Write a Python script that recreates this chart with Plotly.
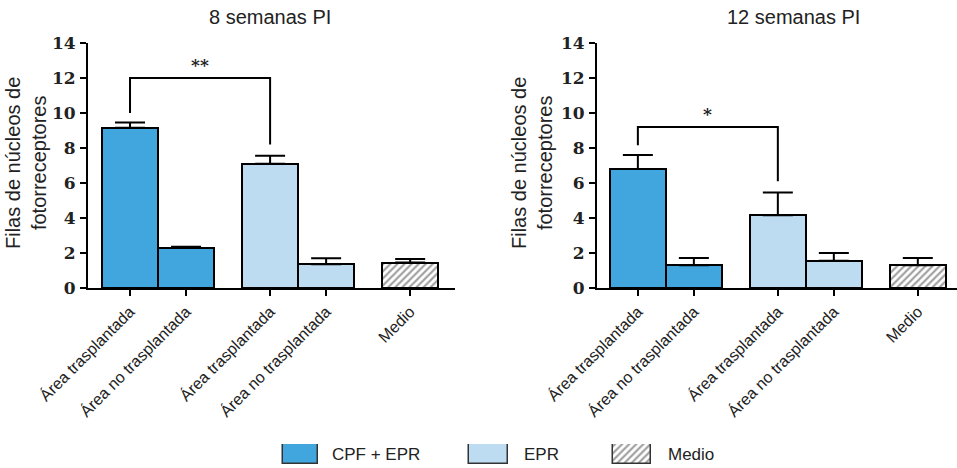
import plotly.graph_objects as go

# ---- data -------------------------------------------------------------
categories = ["Área trasplantada", "Área no trasplantada",
              "Área trasplantada", "Área no trasplantada", "Medio"]
groups = ["CPF + EPR", "CPF + EPR", "EPR", "EPR", "Medio"]

mean_8 = [9.15, 2.3, 7.1, 1.35, 1.45]
sem_8 = [0.3, 0.05, 0.45, 0.35, 0.2]

mean_12 = [6.8, 1.3, 4.15, 1.55, 1.3]
sem_12 = [0.8, 0.42, 1.3, 0.45, 0.42]

titles = ["8 semanas PI", "12 semanas PI"]
sig_labels = ["**", "*"]
sig_tops = [12.0, 9.2]          # height of the comparison bracket
y_ticks = [0, 2, 4, 6, 8, 10, 12, 14]

# ---- styling ----------------------------------------------------------
COL = {"CPF + EPR": "#40a6dd", "EPR": "#bddcf1", "Medio": "white"}
HATCH = dict(shape="/", fgcolor="#444444", bgcolor="white",
             size=5, solidity=0.45)
SANS = "Liberation Sans, Arial, sans-serif"
SERIF = "DejaVu Serif, serif"
W, H = 957, 468


def positions(grp, gap=0.5):
    """Bar centres: adjacent within a group, extra gap between groups."""
    pos, x = [], 0.0
    for i, g in enumerate(grp):
        if i > 0:
            x += 1.0 + (gap if g != grp[i - 1] else 0.0)
        pos.append(x)
    return pos


xpos = positions(groups)

fig = go.Figure()

panels = [
    dict(mean=mean_8, sem=sem_8, xa="x", ya="y",
         dom=[88 / W, 455 / W], rng=[-0.75, 5.8]),
    dict(mean=mean_12, sem=sem_12, xa="x2", ya="y2",
         dom=[597 / W, 1.0], rng=[-0.73, 5.7]),
]

for p_i, p in enumerate(panels):
    for g in ["CPF + EPR", "EPR", "Medio"]:
        idx = [i for i, gg in enumerate(groups) if gg == g]
        marker = dict(color=COL[g], line=dict(color="black", width=2))
        if g == "Medio":
            marker["pattern"] = HATCH
        fig.add_trace(go.Bar(
            x=[xpos[i] for i in idx], y=[p["mean"][i] for i in idx],
            width=1.0, marker=marker,
            error_y=dict(type="data", symmetric=False,
                         array=[p["sem"][i] for i in idx],
                         arrayminus=[0] * len(idx),
                         color="black", thickness=2, width=15),
            xaxis=p["xa"], yaxis=p["ya"], showlegend=False,
        ))

    # significance bracket between the two transplanted areas
    a, b = 0, 2
    top = sig_tops[p_i]
    la = p["mean"][a] + p["sem"][a] + 0.55
    lb = p["mean"][b] + p["sem"][b] + 0.65
    fig.add_trace(go.Scatter(
        x=[xpos[a], xpos[a], xpos[b], xpos[b]], y=[la, top, top, lb],
        mode="lines", line=dict(color="black", width=2),
        xaxis=p["xa"], yaxis=p["ya"], showlegend=False, hoverinfo="skip",
    ))
    fig.add_annotation(
        x=(xpos[a] + xpos[b]) / 2, y=top, xref=p["xa"], yref=p["ya"],
        text=sig_labels[p_i], showarrow=False, yanchor="bottom", yshift=1,
        font=dict(family=SERIF, size=17, color="#222", weight="bold"),
    )

axis_common = dict(showline=True, linecolor="black", linewidth=2,
                   ticks="outside", tickcolor="black", tickwidth=2,
                   ticklen=6, showgrid=False, zeroline=False,
                   automargin=False)

ydom = [180 / H, 425 / H]
for p_i, p in enumerate(panels):
    sfx = "" if p_i == 0 else "2"
    fig.update_layout(**{
        "xaxis" + sfx: dict(domain=p["dom"], range=p["rng"],
                            tickvals=xpos, ticktext=categories,
                            tickangle=-45, anchor="y" + sfx,
                            tickfont=dict(family=SANS, size=16, color="#222"),
                            **axis_common),
        "yaxis" + sfx: dict(domain=ydom, range=[0, 14], tickvals=y_ticks,
                            anchor="x" + sfx, ticklabelstandoff=1,
                            tickfont=dict(family=SERIF, size=17, color="#222",
                                          weight="bold"),
                            **axis_common),
    })

# panel titles and y-axis titles
for cx, t in zip([270, 793], titles):
    fig.add_annotation(x=cx / W, y=(H - 17) / H, xref="paper", yref="paper",
                       text=t, showarrow=False, xanchor="center",
                       yanchor="middle",
                       font=dict(family=SANS, size=20, color="#222"))
for cx in [26, 532]:
    fig.add_annotation(x=cx / W, y=(H - 163) / H, xref="paper", yref="paper",
                       text="Filas de núcleos de<br>fotorreceptores",
                       textangle=-90, showarrow=False, xanchor="center",
                       yanchor="middle",
                       font=dict(family=SANS, size=20, color="#222"))

# legend keys drawn as bars on a hidden axis spanning the figure width
legend_keys = [("CPF + EPR", 283, 318, 330),
               ("EPR", 469, 508, 522),
               ("Medio", 613, 651, 666)]
for name, x0, x1, tx in legend_keys:
    marker = dict(color=COL[name], line=dict(color="#333", width=1.5))
    if name == "Medio":
        marker["pattern"] = HATCH
    fig.add_trace(go.Bar(x=[(x0 + x1) / 2], y=[1], width=[x1 - x0],
                         marker=marker, xaxis="x3", yaxis="y3",
                         showlegend=False, hoverinfo="skip"))
    fig.add_annotation(x=tx / W, y=(H - 454) / H, xref="paper", yref="paper",
                       text=name, showarrow=False, xanchor="left",
                       yanchor="middle",
                       font=dict(family=SANS, size=17, color="#222"))

fig.update_layout(
    xaxis3=dict(domain=[0, 1], range=[0, W], visible=False, anchor="y3"),
    yaxis3=dict(domain=[4 / H, 24 / H], range=[0, 1], visible=False,
                anchor="x3"),
    width=W, height=H, margin=dict(l=0, r=0, t=0, b=0),
    paper_bgcolor="white", plot_bgcolor="white", bargap=0,
)

fig.write_html("out.html")
